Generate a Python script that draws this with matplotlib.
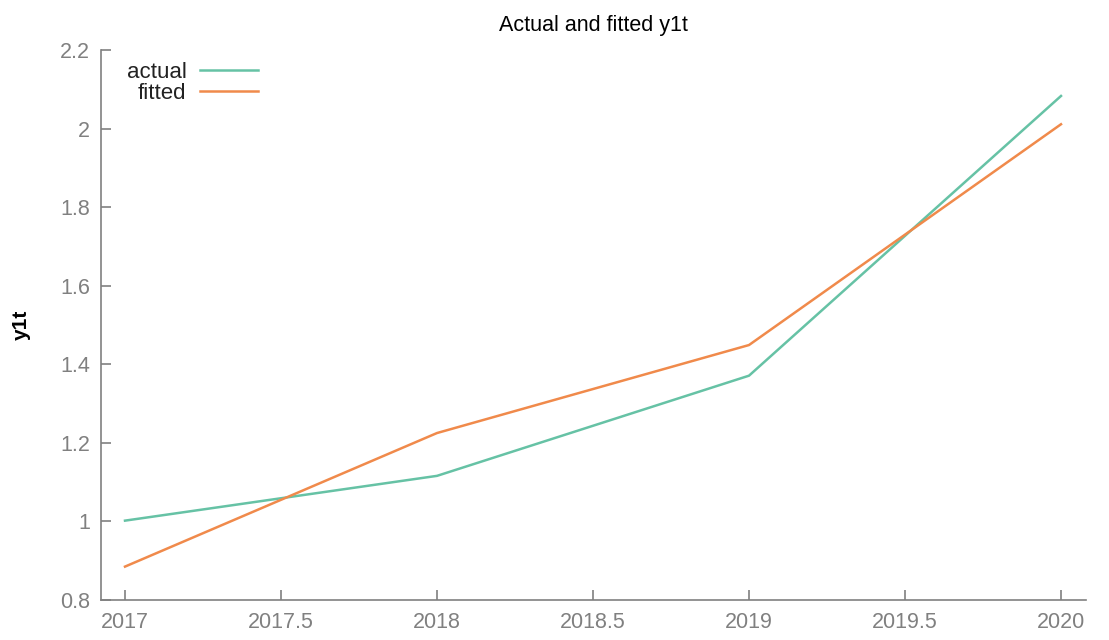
import matplotlib
matplotlib.use("Agg")
import matplotlib.pyplot as plt

years = [2017, 2018, 2019, 2020]
actual = [1.002, 1.116, 1.371, 2.083]
fitted = [0.885, 1.225, 1.449, 2.011]
xticks = [2017, 2017.5, 2018, 2018.5, 2019, 2019.5, 2020]
xticklabels = ["2017", "2017.5", "2018", "2018.5", "2019", "2019.5", "2020"]
yticks = [0.8, 1.0, 1.2, 1.4, 1.6, 1.8, 2.0, 2.2]
yticklabels = ["0.8", "1", "1.2", "1.4", "1.6", "1.8", "2", "2.2"]

plt.rcParams['font.family'] = ['Liberation Sans', 'DejaVu Sans']

fig = plt.figure(figsize=(11.09, 6.4), dpi=100)
ax = fig.add_axes([101/1109, 40/640, (1086-101)/1109, (600-50)/640])

green = "#66c2a5"
orange = "#f08a4b"
ax.plot(years, actual, color=green, lw=1.8, label="actual")
ax.plot(years, fitted, color=orange, lw=1.8, label="fitted")

ax.set_xlim(2017 - 24/312, 2020 + 25/312)
ax.set_ylim(0.8, 2.2)
ax.set_xticks(xticks)
ax.set_xticklabels(xticklabels)
ax.set_yticks(yticks)
ax.set_yticklabels(yticklabels)

gray = "#808080"
for s in ["top", "right"]:
    ax.spines[s].set_visible(False)
for s in ["left", "bottom"]:
    ax.spines[s].set_color(gray)
    ax.spines[s].set_linewidth(1.2)
ax.tick_params(axis="both", direction="in", length=7, width=1.2, color=gray,
               labelcolor=gray, labelsize=15.5)
ax.tick_params(axis="x", pad=9)
ax.tick_params(axis="y", pad=8)

ax.set_title("Actual and fitted y1t", fontsize=15.5, color="black", pad=14)
ax.set_ylabel("y1t", fontsize=15, color="black", fontweight="bold")
ax.yaxis.set_label_coords(-70/985, 0.5)

leg = ax.legend(loc="upper left", markerfirst=False, frameon=False, fontsize=16,
                handlelength=2.6, handletextpad=0.6, borderaxespad=0.0,
                labelspacing=0.0, bbox_to_anchor=(0.017, 0.995))
for t in leg.get_texts():
    t.set_ha("right")
    t.set_color("#222222")
leg._legend_box.align = "right"

fig.savefig("out.png", dpi=100)
